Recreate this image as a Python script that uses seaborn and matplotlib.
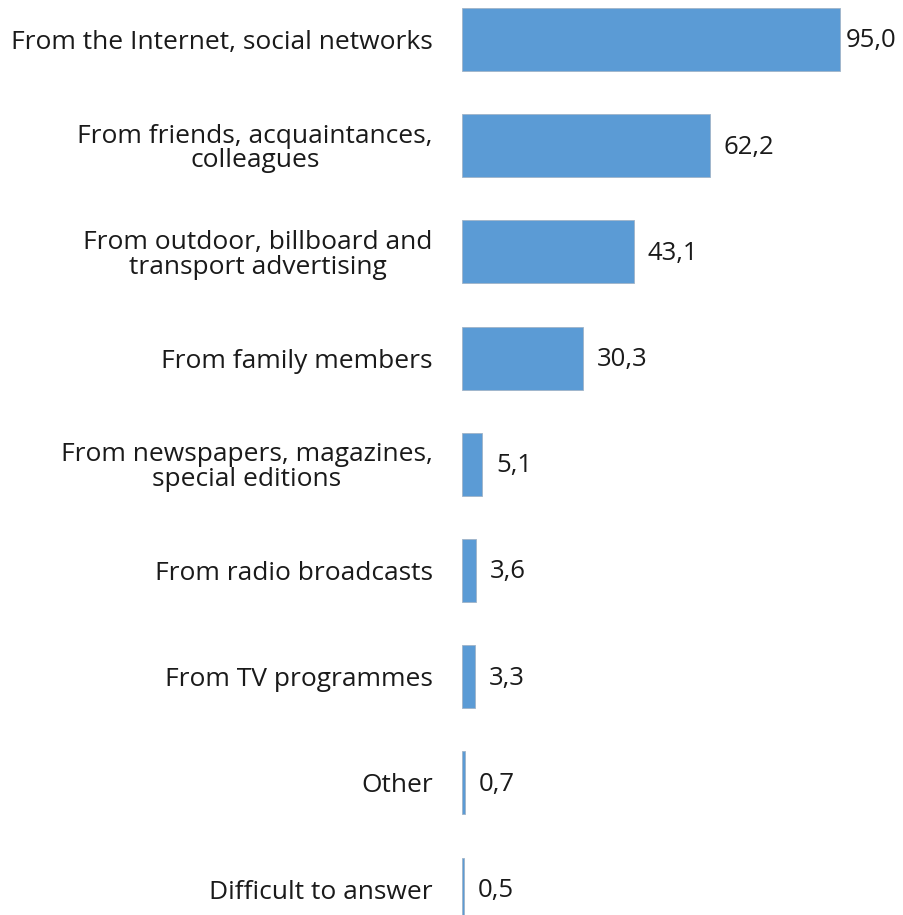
import matplotlib
matplotlib.use("Agg")
import matplotlib.pyplot as plt
import seaborn as sns
import pandas as pd

categories = [
    "From the Internet, social networks",
    "From friends, acquaintances,\ncolleagues",
    "From outdoor, billboard and\ntransport advertising",
    "From family members",
    "From newspapers, magazines,\nspecial editions",
    "From radio broadcasts",
    "From TV programmes",
    "Other",
    "Difficult to answer",
]
values = [95.0, 62.2, 43.1, 30.3, 5.1, 3.6, 3.3, 0.7, 0.5]
value_labels = ["95,0", "62,2", "43,1", "30,3", "5,1", "3,6", "3,3", "0,7", "0,5"]

df = pd.DataFrame({"source": categories, "share": values})

sns.set_theme(style="white")
plt.rcParams["font.family"] = ["Open Sans", "DejaVu Sans"]

fig = plt.figure(figsize=(9.04, 9.15), dpi=100)
ax = fig.add_axes([462 / 904, 0, 438 / 904, 1])

sns.barplot(data=df, x="share", y="source", orient="h", color="#5B9BD5",
            saturation=1, width=0.593, edgecolor="#9FB3C8", linewidth=0.6, ax=ax)

ax.set_xlim(0, 110)
ax.set_ylim(8.244, -0.372)
ax.set_xlabel("")
ax.set_ylabel("")
ax.set_xticks([])
ax.tick_params(axis="y", length=0, pad=21, labelsize=19, labelcolor="#1a1a1a")
for lbl in ax.get_yticklabels():
    lbl.set_multialignment("center")
    lbl.set_linespacing(0.98)
for s in ax.spines.values():
    s.set_visible(False)

vmax = max(values)
for i, (v, t) in enumerate(zip(values, value_labels)):
    dx = 4 if v == vmax else 10
    ax.annotate(t, xy=(v, i), xytext=(dx, -1), textcoords="offset points",
                ha="left", va="center", fontsize=18.5, color="#1a1a1a")

fig.savefig("out.png", dpi=100)
